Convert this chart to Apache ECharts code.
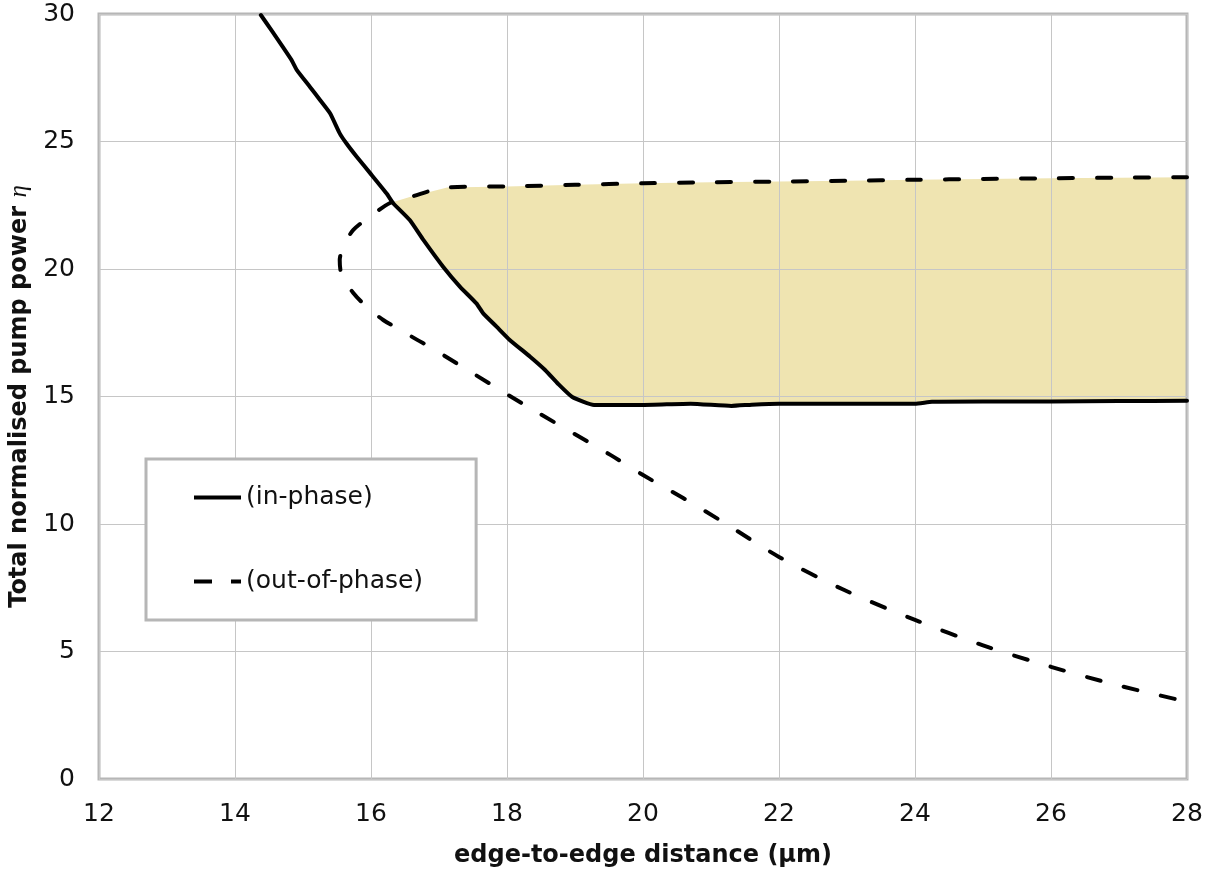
<!DOCTYPE html>
<html>
<head>
<meta charset="utf-8">
<title>Pump power threshold vs. edge-to-edge distance</title>
<script src="https://cdn.jsdelivr.net/npm/echarts@6/dist/echarts.min.js"></script>
<style>
  html, body { margin: 0; padding: 0; background: #ffffff; }
  #chart { width: 1216px; height: 871px; }
</style>
</head>
<body>
<div id="chart"></div>
<script>
// Axis ticks
const xTicks = [12, 14, 16, 18, 20, 22, 24, 26, 28];
const yTicks = [0, 5, 10, 15, 20, 25, 30];

// In-phase threshold curve: [distance (µm), eta]
const inPhase = [
  [14.38, 29.96], [14.55, 29.31], [14.70, 28.72], [14.83, 28.20], [14.91, 27.80],
  [15.10, 27.15], [15.25, 26.63], [15.40, 26.10], [15.54, 25.32], [15.64, 24.92],
  [15.79, 24.40], [15.99, 23.75], [16.23, 22.96], [16.33, 22.57], [16.57, 21.92],
  [16.77, 21.14], [17.06, 20.09], [17.31, 19.30], [17.55, 18.65], [17.65, 18.26],
  [17.85, 17.73], [18.04, 17.22], [18.34, 16.56], [18.56, 16.04], [18.75, 15.50],
  [18.96, 14.98], [19.28, 14.67], [20.00, 14.67], [20.70, 14.72], [21.30, 14.63],
  [21.60, 14.68], [22.00, 14.72], [23.00, 14.72], [24.00, 14.72], [24.25, 14.79],
  [25.00, 14.80], [26.00, 14.80], [27.00, 14.82], [28.00, 14.83]
];

// Out-of-phase threshold curve, traced from the upper branch round the turning point
const outOfPhase = [
  [28.00, 23.60], [27.00, 23.58], [26.00, 23.56], [25.00, 23.53], [24.00, 23.50],
  [23.00, 23.46], [22.00, 23.43], [21.00, 23.40], [20.00, 23.36], [19.00, 23.30],
  [18.00, 23.24], [17.12, 23.20], [16.57, 22.82], [16.28, 22.59], [16.06, 22.20],
  [15.74, 21.53], [15.60, 20.90], [15.54, 20.35], [15.57, 19.76], [15.74, 19.06],
  [15.94, 18.51], [16.18, 18.00], [16.38, 17.69], [16.68, 17.22], [16.87, 16.94],
  [17.26, 16.30], [17.75, 15.50], [18.24, 14.70], [19.52, 12.71], [20.00, 11.92],
  [20.59, 11.02], [21.20, 10.04], [22.00, 8.71], [22.96, 7.41], [24.00, 6.24],
  [24.99, 5.25], [26.00, 4.40], [26.96, 3.69], [28.00, 3.03]
];

const seriesNames = ['(in-phase)', '(out-of-phase)'];

// Legend keys: a solid bar and a dash-gap-dash bar
const legendIcons = [
  'path://M0,0h47v4h-47z',
  'path://M0,0h18v4h-18zM37,0h10v4h-10z'
];

// Shaded region: between the in-phase curve (below) and the upper out-of-phase branch (above)
const crossY = 22.59;
const upperEdge = outOfPhase.slice(0, outOfPhase.findIndex(p => p[1] < crossY - 0.01));
const lowerEdge = inPhase.filter(p => p[1] <= crossY + 0.01);
const regionOutline = upperEdge.slice().reverse().concat(lowerEdge.slice().reverse());

const font = 'DejaVu Sans';
const chart = echarts.init(document.getElementById('chart'), null, { renderer: 'canvas' });

chart.setOption({
  backgroundColor: '#ffffff',
  animation: false,
  grid: {
    left: 99, right: 29, top: 14, bottom: 92,
    containLabel: false,
    outerBoundsMode: 'none',
    show: true,
    borderColor: '#b6b6b6',
    borderWidth: 3,
    backgroundColor: 'transparent'
  },
  xAxis: {
    type: 'value',
    min: xTicks[0],
    max: xTicks[xTicks.length - 1],
    interval: xTicks[1] - xTicks[0],
    name: 'edge-to-edge distance (µm)',
    nameLocation: 'middle',
    nameGap: 65,
    nameTextStyle: { fontFamily: font, fontWeight: 'bold', fontSize: 24, color: '#111' },
    axisLine: { show: false },
    axisTick: { show: false },
    axisLabel: { fontFamily: font, fontSize: 25, color: '#111', margin: 23 },
    splitLine: { show: true, lineStyle: { color: '#c6c6c6', width: 1 } }
  },
  yAxis: {
    type: 'value',
    min: yTicks[0],
    max: yTicks[yTicks.length - 1],
    interval: yTicks[1] - yTicks[0],
    name: 'Total normalised pump power {eta|η}',
    nameLocation: 'middle',
    nameGap: 64,
    nameRotate: 90,
    nameTextStyle: {
      fontFamily: font, fontWeight: 'bold', fontSize: 24, color: '#111',
      rich: {
        eta: { fontFamily: 'Liberation Serif', fontStyle: 'italic', fontWeight: 'normal', fontSize: 25, color: '#111' }
      }
    },
    axisLine: { show: false },
    axisTick: { show: false },
    axisLabel: { fontFamily: font, fontSize: 25, color: '#111', margin: 24 },
    splitLine: { show: true, lineStyle: { color: '#c6c6c6', width: 1 } }
  },
  legend: {
    orient: 'vertical',
    left: 146,
    top: 459,
    padding: [26, 53, 26, 48],
    itemGap: 59,
    itemWidth: 47,
    itemHeight: 4,
    borderColor: '#b6b6b6',
    borderWidth: 3,
    backgroundColor: '#ffffff',
    itemStyle: { color: '#000000', borderWidth: 0 },
    textStyle: { fontFamily: font, fontSize: 25, color: '#111', lineHeight: 25 },
    data: seriesNames.map((n, i) => ({ name: n, icon: legendIcons[i] }))
  },
  series: [
    {
      type: 'custom',
      name: 'region',
      z: -1,
      silent: true,
      data: [0],
      renderItem: function (params, api) {
        return {
          type: 'polygon',
          shape: { points: regionOutline.map(p => api.coord(p)) },
          style: { fill: '#efe4b1', stroke: null }
        };
      }
    },
    {
      type: 'line',
      name: seriesNames[0],
      data: inPhase,
      symbol: 'none',
      smooth: 0.15,
      lineStyle: { color: '#000000', width: 4, cap: 'round', join: 'round' },
      itemStyle: { color: '#000000' },
      z: 3
    },
    {
      type: 'line',
      name: seriesNames[1],
      data: outOfPhase,
      symbol: 'none',
      smooth: 0.3,
      lineStyle: { color: '#000000', width: 4, type: [14, 24], cap: 'round', join: 'round' },
      itemStyle: { color: '#000000' },
      z: 3
    }
  ]
});
</script>
</body>
</html>
